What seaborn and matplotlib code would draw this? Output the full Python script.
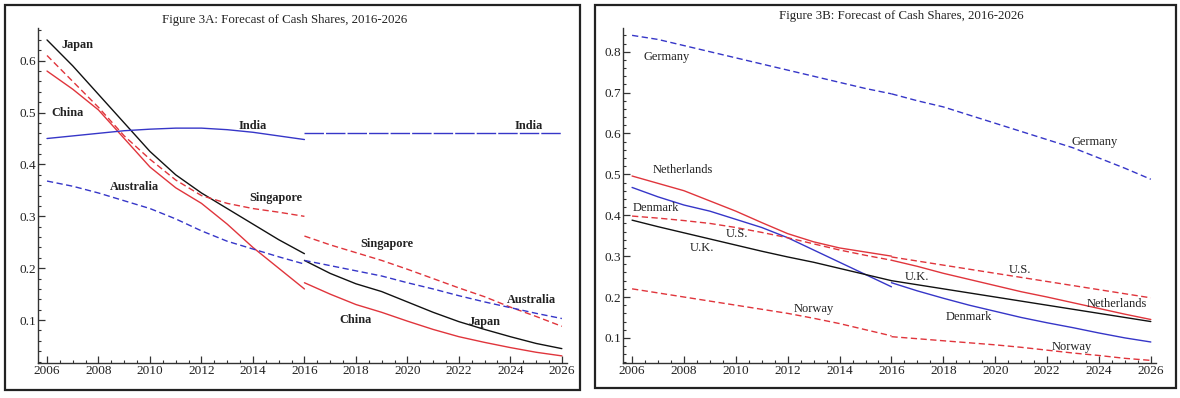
import matplotlib
matplotlib.use("Agg")
import matplotlib.pyplot as plt
import seaborn as sns
from matplotlib.patches import Rectangle
from matplotlib.ticker import MultipleLocator

# years
years_hist = [2006, 2007, 2008, 2009, 2010, 2011, 2012, 2013, 2014, 2015, 2016]
years_fcst = [2016, 2017, 2018, 2019, 2020, 2021, 2022, 2023, 2024, 2025, 2026]

# Figure 3A - historic (2006-2016)
japan_hist = [0.64, 0.59, 0.535, 0.48, 0.425, 0.38, 0.345, 0.315, 0.285, 0.255, 0.228]
china_hist = [0.58, 0.545, 0.505, 0.45, 0.395, 0.355, 0.325, 0.285, 0.24, 0.20, 0.16]
singapore_hist = [0.61, 0.56, 0.51, 0.455, 0.41, 0.37, 0.34, 0.325, 0.315, 0.308, 0.30]
india_hist = [0.45, 0.455, 0.46, 0.465, 0.468, 0.47, 0.47, 0.467, 0.462, 0.455, 0.448]
australia_hist = [0.368, 0.358, 0.345, 0.33, 0.315, 0.295, 0.272, 0.252, 0.237, 0.222, 0.208]

# Figure 3A - forecast (2016-2026)
japan_fcst = [0.215, 0.19, 0.17, 0.155, 0.135, 0.115, 0.097, 0.082, 0.068, 0.055, 0.045]
china_fcst = [0.172, 0.15, 0.13, 0.115, 0.098, 0.082, 0.068, 0.057, 0.047, 0.038, 0.031]
singapore_fcst = [0.262, 0.245, 0.23, 0.215, 0.198, 0.18, 0.162, 0.145, 0.125, 0.107, 0.088]
india_fcst = [0.46, 0.46, 0.46, 0.46, 0.46, 0.46, 0.46, 0.46, 0.46, 0.46, 0.46]
australia_fcst = [0.215, 0.205, 0.195, 0.185, 0.172, 0.16, 0.147, 0.135, 0.124, 0.113, 0.103]

# Figure 3B - historic
germany_hist = [0.84, 0.83, 0.815, 0.80, 0.785, 0.77, 0.755, 0.74, 0.725, 0.71, 0.697]
netherlands_hist = [0.496, 0.478, 0.46, 0.435, 0.41, 0.382, 0.355, 0.335, 0.32, 0.31, 0.30]
denmark_hist = [0.468, 0.445, 0.425, 0.41, 0.39, 0.37, 0.345, 0.315, 0.285, 0.255, 0.225]
us_hist = [0.398, 0.393, 0.387, 0.38, 0.37, 0.358, 0.345, 0.33, 0.315, 0.302, 0.29]
uk_hist = [0.388, 0.372, 0.357, 0.342, 0.327, 0.312, 0.298, 0.285, 0.27, 0.255, 0.24]
norway_hist = [0.22, 0.21, 0.20, 0.19, 0.18, 0.17, 0.16, 0.148, 0.135, 0.12, 0.105]

# Figure 3B - forecast
germany_fcst = [0.697, 0.68, 0.665, 0.645, 0.625, 0.605, 0.585, 0.565, 0.54, 0.515, 0.488]
netherlands_fcst = [0.29, 0.275, 0.258, 0.243, 0.228, 0.213, 0.20, 0.186, 0.172, 0.158, 0.145]
denmark_fcst = [0.235, 0.215, 0.197, 0.18, 0.165, 0.15, 0.137, 0.125, 0.112, 0.10, 0.09]
us_fcst = [0.298, 0.288, 0.278, 0.268, 0.258, 0.248, 0.238, 0.228, 0.218, 0.208, 0.198]
uk_fcst = [0.24, 0.23, 0.22, 0.21, 0.20, 0.19, 0.18, 0.17, 0.16, 0.15, 0.14]
norway_fcst = [0.103, 0.098, 0.093, 0.088, 0.083, 0.077, 0.07, 0.063, 0.057, 0.05, 0.045]

RED = "#e0353c"
BLUE = "#3636c8"
BLACK = "#111111"
DASH = (0, (4.5, 2.5))
LONGDASH = (0, (14, 1.5))

sns.set_style("white")
plt.rcParams["font.family"] = ["Liberation Serif", "DejaVu Serif"]

W, H = 1180, 398
fig = plt.figure(figsize=(W / 100, H / 100), dpi=100)


def px_axes(x0, x1, y_top, y_bot):
    return fig.add_axes([x0 / W, 1 - y_bot / H, (x1 - x0) / W, (y_bot - y_top) / H])


def frame(x0, x1, y_top, y_bot):
    fig.patches.append(Rectangle((x0 / W, 1 - y_bot / H), (x1 - x0) / W, (y_bot - y_top) / H,
                                 transform=fig.transFigure, fill=False, lw=1.6,
                                 edgecolor="#222222"))


def style_axes(ax, ylim, yticks):
    ax.set_xlim(2005.65, 2026.2)
    ax.set_ylim(*ylim)
    ax.set_xticks(list(range(2006, 2027, 2)))
    ax.xaxis.set_minor_locator(MultipleLocator(0.5))
    ax.set_yticks(yticks)
    ax.yaxis.set_minor_locator(MultipleLocator(0.02))
    for s in ["top", "right"]:
        ax.spines[s].set_visible(False)
    for s in ["left", "bottom"]:
        ax.spines[s].set_color("#333333")
        ax.spines[s].set_linewidth(1.0)
    ax.tick_params(which="major", direction="in", length=5, width=0.9, labelsize=9.5,
                   pad=1.5, color="#333333", labelcolor="#222222", left=True, bottom=True)
    ax.tick_params(which="minor", direction="in", length=2.5, width=0.8, color="#333333",
                   left=True, bottom=True)
    ax.set_xlabel("")
    ax.set_ylabel("")
    ax.patch.set_alpha(0)


def line(ax, x, y, color, ls="-"):
    sns.lineplot(x=x, y=y, ax=ax, color=color, linestyle=ls, linewidth=1.0, legend=False)


# ---- Figure 3A ----
frame(5, 580, 5, 390)
ax1 = px_axes(38, 567, 28, 363)
line(ax1, years_hist, japan_hist, BLACK)
line(ax1, years_hist, china_hist, RED)
line(ax1, years_hist, singapore_hist, RED, DASH)
line(ax1, years_hist, india_hist, BLUE)
line(ax1, years_hist, australia_hist, BLUE, DASH)
line(ax1, years_fcst, japan_fcst, BLACK)
line(ax1, years_fcst, china_fcst, RED)
line(ax1, years_fcst, singapore_fcst, RED, DASH)
line(ax1, years_fcst, india_fcst, BLUE, LONGDASH)
line(ax1, years_fcst, australia_fcst, BLUE, DASH)
style_axes(ax1, (0.0173, 0.663), [0.1, 0.2, 0.3, 0.4, 0.5, 0.6])

labels_a = [("Japan", 2007.2, 0.631), ("China", 2006.8, 0.50), ("India", 2014.0, 0.475),
            ("India", 2024.7, 0.475), ("Australia", 2009.4, 0.356),
            ("Singapore", 2014.9, 0.335), ("Singapore", 2019.2, 0.246),
            ("Australia", 2024.8, 0.138), ("China", 2018.0, 0.10), ("Japan", 2023.0, 0.096)]
for txt, x, y in labels_a:
    ax1.text(x, y, txt, ha="center", va="center", fontsize=8.8, fontweight="bold",
             color="#222222")
fig.text(285 / W, 1 - 20 / H, "Figure 3A: Forecast of Cash Shares, 2016-2026",
         ha="center", va="center", fontsize=9.3, color="#222222")

# ---- Figure 3B ----
frame(595, 1176, 5, 388)
ax2 = px_axes(623, 1156, 28, 363)
line(ax2, years_hist, germany_hist, BLUE, DASH)
line(ax2, years_hist, netherlands_hist, RED)
line(ax2, years_hist, denmark_hist, BLUE)
line(ax2, years_hist, us_hist, RED, DASH)
line(ax2, years_hist, uk_hist, BLACK)
line(ax2, years_hist, norway_hist, RED, DASH)
line(ax2, years_fcst, germany_fcst, BLUE, DASH)
line(ax2, years_fcst, netherlands_fcst, RED)
line(ax2, years_fcst, denmark_fcst, BLUE)
line(ax2, years_fcst, us_fcst, RED, DASH)
line(ax2, years_fcst, uk_fcst, BLACK)
line(ax2, years_fcst, norway_fcst, RED, DASH)
style_axes(ax2, (0.0386, 0.858), [0.1, 0.2, 0.3, 0.4, 0.5, 0.6, 0.7, 0.8])

labels_b = [("Germany", 2007.35, 0.788), ("Germany", 2023.85, 0.58),
            ("Netherlands", 2007.97, 0.51), ("Denmark", 2006.9, 0.417),
            ("U.S.", 2010.05, 0.353), ("U.K.", 2008.7, 0.319), ("Norway", 2013.0, 0.171),
            ("U.K.", 2017.0, 0.25), ("U.S.", 2020.95, 0.265),
            ("Netherlands", 2024.7, 0.183), ("Denmark", 2019.0, 0.15),
            ("Norway", 2022.95, 0.078)]
for txt, x, y in labels_b:
    ax2.text(x, y, txt, ha="center", va="center", fontsize=9, color="#222222")
fig.text(901 / W, 1 - 16 / H, "Figure 3B: Forecast of Cash Shares, 2016-2026",
         ha="center", va="center", fontsize=9.3, color="#222222")

fig.savefig("out.png", dpi=100)
